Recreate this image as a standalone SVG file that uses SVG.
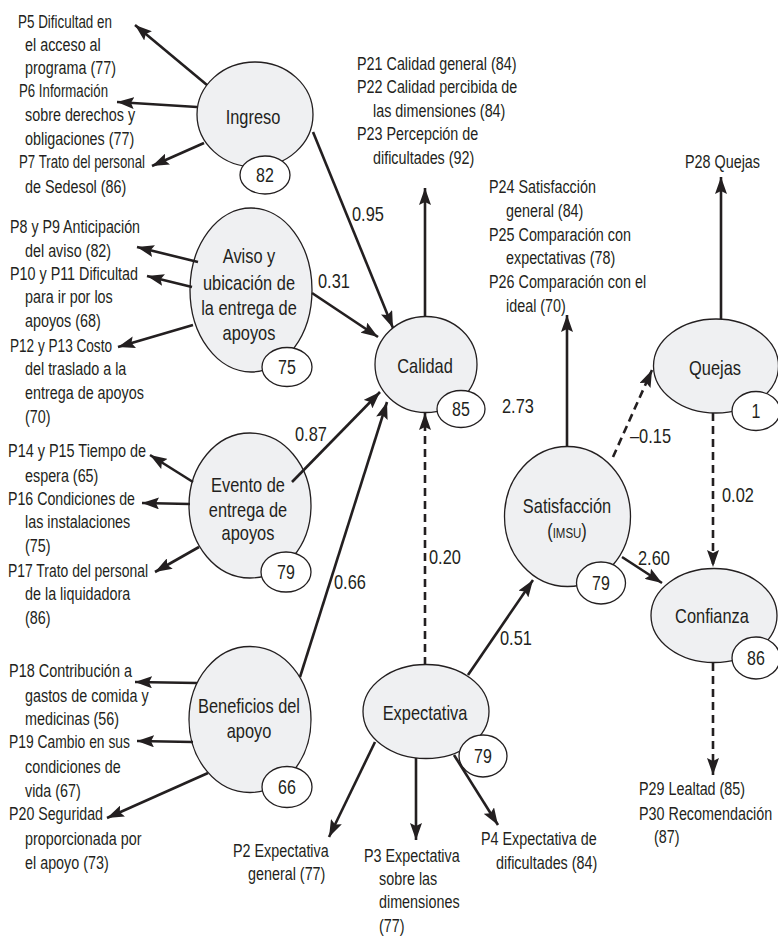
<svg xmlns="http://www.w3.org/2000/svg" width="778" height="936" viewBox="0 0 778 936">
<defs>
<marker id="ah" viewBox="0 0 17 12" markerWidth="17" markerHeight="12" refX="17" refY="6" orient="auto" markerUnits="userSpaceOnUse"><path d="M0,0 L17,6 L0,12 L3,6 z" fill="#231f20"/></marker>
</defs>
<style>
.t{font-family:'Liberation Sans',Arial,sans-serif;fill:#231f20}
.it{font-size:17.5px}
.nd{font-size:20px;text-anchor:middle}
.num{font-size:20px}
.bd{font-size:19.5px;text-anchor:middle}
.node{fill:#eff0f2;stroke:#231f20;stroke-width:1.3}
.badge{fill:#fff;stroke:#231f20;stroke-width:1.3}
.c{stroke:#231f20;stroke-width:2.6;fill:none;marker-end:url(#ah)}
.d{stroke-dasharray:8 5}
</style>
<rect width="778" height="936" fill="#fff"/>

<g id="node-ingreso">
<ellipse class="node" cx="255" cy="114.5" rx="58" ry="52.5"/>
<text class="t nd" transform="matrix(.82 0 0 1 253 124)">Ingreso</text>
<ellipse class="badge" cx="265" cy="175" rx="25" ry="19"/>
<text class="t bd" transform="matrix(.82 0 0 1 265 182)">82</text>
</g>
<g id="node-aviso">
<ellipse class="node" cx="251" cy="290" rx="61" ry="82"/>
<text class="t nd" transform="matrix(.82 0 0 1 249 263)">Aviso y</text>
<text class="t nd" transform="matrix(.82 0 0 1 249 290)">ubicación de</text>
<text class="t nd" transform="matrix(.82 0 0 1 249 315)">la entrega de</text>
<text class="t nd" transform="matrix(.82 0 0 1 249 340)">apoyos</text>
<ellipse class="badge" cx="287" cy="367" rx="25" ry="19.5"/>
<text class="t bd" transform="matrix(.82 0 0 1 287 374)">75</text>
</g>
<g id="node-evento">
<ellipse class="node" cx="250" cy="505.5" rx="61" ry="72.5"/>
<text class="t nd" transform="matrix(.82 0 0 1 248 492)">Evento de</text>
<text class="t nd" transform="matrix(.82 0 0 1 248 517)">entrega de</text>
<text class="t nd" transform="matrix(.82 0 0 1 248 540)">apoyos</text>
<ellipse class="badge" cx="286" cy="572" rx="25" ry="20"/>
<text class="t bd" transform="matrix(.82 0 0 1 286 579)">79</text>
</g>
<g id="node-beneficios">
<ellipse class="node" cx="250" cy="719.5" rx="61" ry="73"/>
<text class="t nd" transform="matrix(.82 0 0 1 249 713)">Beneficios del</text>
<text class="t nd" transform="matrix(.82 0 0 1 249 738)">apoyo</text>
<ellipse class="badge" cx="287" cy="787" rx="25" ry="20.5"/>
<text class="t bd" transform="matrix(.82 0 0 1 287 794)">66</text>
</g>
<g id="node-calidad">
<ellipse class="node" cx="426" cy="364.5" rx="51" ry="48"/>
<text class="t nd" transform="matrix(.82 0 0 1 425 373)">Calidad</text>
<ellipse class="badge" cx="461" cy="409" rx="24" ry="18.5"/>
<text class="t bd" transform="matrix(.82 0 0 1 461 416)">85</text>
</g>
<g id="node-expectativa">
<ellipse class="node" cx="426" cy="711.5" rx="63" ry="47"/>
<text class="t nd" transform="matrix(.82 0 0 1 425 720)">Expectativa</text>
<ellipse class="badge" cx="483" cy="756" rx="24" ry="21"/>
<text class="t bd" transform="matrix(.82 0 0 1 483 763)">79</text>
</g>
<g id="node-satisfaccion">
<ellipse class="node" cx="567.5" cy="516.5" rx="63" ry="70"/>
<text class="t nd" transform="matrix(.82 0 0 1 567 513)">Satisfacción</text>
<text class="t nd" transform="matrix(.82 0 0 1 567 538)">(<tspan font-size="14px">IMSU</tspan>)</text>
<ellipse class="badge" cx="601" cy="583" rx="24.5" ry="21"/>
<text class="t bd" transform="matrix(.82 0 0 1 601 590)">79</text>
</g>
<g id="node-quejas">
<ellipse class="node" cx="716" cy="366" rx="62.5" ry="47"/>
<text class="t nd" transform="matrix(.82 0 0 1 715 375)">Quejas</text>
<ellipse class="badge" cx="756" cy="411" rx="24" ry="19.5"/>
<text class="t bd" transform="matrix(.82 0 0 1 756 418)">1</text>
</g>
<g id="node-confianza">
<ellipse class="node" cx="714" cy="615.5" rx="63" ry="47"/>
<text class="t nd" transform="matrix(.82 0 0 1 712 623)">Confianza</text>
<ellipse class="badge" cx="756" cy="658" rx="24" ry="21"/>
<text class="t bd" transform="matrix(.82 0 0 1 756 665)">86</text>
</g>

<g id="connectors">
<line class="c" x1="207" y1="85" x2="135" y2="25"/>
<line class="c" x1="197" y1="107" x2="117" y2="102"/>
<line class="c" x1="204" y1="143" x2="152" y2="166"/>
<line class="c" x1="313" y1="132" x2="393" y2="328"/>
<line class="c" x1="198" y1="262" x2="137" y2="247"/>
<line class="c" x1="192" y1="287" x2="147" y2="276"/>
<line class="c" x1="193" y1="325" x2="118" y2="347"/>
<line class="c" x1="312" y1="293" x2="378" y2="337"/>
<line class="c" x1="193" y1="482" x2="150" y2="455"/>
<line class="c" x1="190" y1="504" x2="142" y2="503"/>
<line class="c" x1="199" y1="547" x2="155" y2="572"/>
<line class="c" x1="292" y1="482" x2="380" y2="392"/>
<line class="c" x1="197" y1="683" x2="135" y2="682"/>
<line class="c" x1="193" y1="742" x2="137" y2="741"/>
<line class="c" x1="208" y1="773" x2="107" y2="818"/>
<line class="c" x1="300" y1="677" x2="387" y2="402"/>
<line class="c" x1="425" y1="317" x2="425" y2="188"/>
<line class="c d" x1="425" y1="665" x2="425" y2="413"/>
<line class="c" x1="375" y1="742" x2="329" y2="837"/>
<line class="c" x1="416" y1="758" x2="416" y2="840"/>
<line class="c" x1="454" y1="755" x2="498" y2="825"/>
<line class="c" x1="468" y1="675" x2="533" y2="580"/>
<line class="c" x1="567" y1="447" x2="567" y2="315"/>
<line class="c d" x1="613" y1="457" x2="652" y2="370"/>
<line class="c" x1="622" y1="557" x2="662" y2="583"/>
<line class="c" x1="721" y1="319" x2="721" y2="177"/>
<line class="c d" x1="713" y1="413" x2="713" y2="567"/>
<line class="c d" x1="713" y1="663" x2="713" y2="775"/>
</g>

<g id="coefficients">
<text class="t num" transform="matrix(.82 0 0 1 352 221)">0.95</text>
<text class="t num" transform="matrix(.82 0 0 1 318 288)">0.31</text>
<text class="t num" transform="matrix(.82 0 0 1 295 441)">0.87</text>
<text class="t num" transform="matrix(.82 0 0 1 334 589)">0.66</text>
<text class="t num" transform="matrix(.82 0 0 1 429 564)">0.20</text>
<text class="t num" transform="matrix(.82 0 0 1 500 645)">0.51</text>
<text class="t num" transform="matrix(.82 0 0 1 502 413)">2.73</text>
<text class="t num" transform="matrix(.82 0 0 1 630 443)">–0.15</text>
<text class="t num" transform="matrix(.82 0 0 1 638 565)">2.60</text>
<text class="t num" transform="matrix(.82 0 0 1 722 502)">0.02</text>
</g>

<g id="indicators">
<text class="t it" x="18" y="28" textLength="94" lengthAdjust="spacingAndGlyphs">P5 Dificultad en</text>
<text class="t it" transform="matrix(.82 0 0 1 25 51)">el acceso al</text>
<text class="t it" transform="matrix(.82 0 0 1 25 74)">programa (77)</text>
<text class="t it" x="19" y="97" textLength="89" lengthAdjust="spacingAndGlyphs">P6 Información</text>
<text class="t it" transform="matrix(.82 0 0 1 25 121)">sobre derechos y</text>
<text class="t it" transform="matrix(.82 0 0 1 25 145)">obligaciones (77)</text>
<text class="t it" x="19" y="168" textLength="126" lengthAdjust="spacingAndGlyphs">P7 Trato del personal</text>
<text class="t it" transform="matrix(.82 0 0 1 25 193)">de Sedesol (86)</text>

<text class="t it" x="10" y="233" textLength="130" lengthAdjust="spacingAndGlyphs">P8 y P9 Anticipación</text>
<text class="t it" transform="matrix(.82 0 0 1 25 257)">del aviso (82)</text>
<text class="t it" x="10" y="280" textLength="128" lengthAdjust="spacingAndGlyphs">P10 y P11 Dificultad</text>
<text class="t it" transform="matrix(.82 0 0 1 25 303)">para ir por los</text>
<text class="t it" transform="matrix(.82 0 0 1 25 327)">apoyos (68)</text>
<text class="t it" x="10" y="352" textLength="102" lengthAdjust="spacingAndGlyphs">P12 y P13 Costo</text>
<text class="t it" transform="matrix(.82 0 0 1 25 375)">del traslado a la</text>
<text class="t it" transform="matrix(.82 0 0 1 25 399)">entrega de apoyos</text>
<text class="t it" transform="matrix(.82 0 0 1 25 423)">(70)</text>

<text class="t it" x="8" y="457" textLength="138" lengthAdjust="spacingAndGlyphs">P14 y P15 Tiempo de</text>
<text class="t it" transform="matrix(.82 0 0 1 25 482)">espera (65)</text>
<text class="t it" x="8" y="505" textLength="127" lengthAdjust="spacingAndGlyphs">P16 Condiciones de</text>
<text class="t it" transform="matrix(.82 0 0 1 25 528)">las instalaciones</text>
<text class="t it" transform="matrix(.82 0 0 1 25 552)">(75)</text>
<text class="t it" x="8" y="577" textLength="140" lengthAdjust="spacingAndGlyphs">P17 Trato del personal</text>
<text class="t it" transform="matrix(.82 0 0 1 25 600)">de la liquidadora</text>
<text class="t it" transform="matrix(.82 0 0 1 25 624)">(86)</text>

<text class="t it" x="9" y="677" textLength="123" lengthAdjust="spacingAndGlyphs">P18 Contribución a</text>
<text class="t it" transform="matrix(.82 0 0 1 25 702)">gastos de comida y</text>
<text class="t it" transform="matrix(.82 0 0 1 25 725)">medicinas (56)</text>
<text class="t it" x="9" y="748" textLength="121" lengthAdjust="spacingAndGlyphs">P19 Cambio en sus</text>
<text class="t it" transform="matrix(.82 0 0 1 25 773)">condiciones de</text>
<text class="t it" transform="matrix(.82 0 0 1 25 797)">vida (67)</text>
<text class="t it" x="9" y="820" textLength="94" lengthAdjust="spacingAndGlyphs">P20 Seguridad</text>
<text class="t it" transform="matrix(.82 0 0 1 25 845)">proporcionada por</text>
<text class="t it" transform="matrix(.82 0 0 1 25 869)">el apoyo (73)</text>

<text class="t it" transform="matrix(.82 0 0 1 357 70)">P21 Calidad general (84)</text>
<text class="t it" transform="matrix(.82 0 0 1 357 93)">P22 Calidad percibida de</text>
<text class="t it" transform="matrix(.82 0 0 1 373 117)">las dimensiones (84)</text>
<text class="t it" transform="matrix(.82 0 0 1 357 140)">P23 Percepción de</text>
<text class="t it" transform="matrix(.82 0 0 1 373 164)">dificultades (92)</text>

<text class="t it" transform="matrix(.82 0 0 1 489 193)">P24 Satisfacción</text>
<text class="t it" transform="matrix(.82 0 0 1 506 217)">general (84)</text>
<text class="t it" transform="matrix(.82 0 0 1 489 241)">P25 Comparación con</text>
<text class="t it" transform="matrix(.82 0 0 1 506 264)">expectativas (78)</text>
<text class="t it" transform="matrix(.82 0 0 1 489 288)">P26 Comparación con el</text>
<text class="t it" transform="matrix(.82 0 0 1 506 312)">ideal (70)</text>

<text class="t it" transform="matrix(.82 0 0 1 685 168)">P28 Quejas</text>

<text class="t it" transform="matrix(.82 0 0 1 233 857)">P2 Expectativa</text>
<text class="t it" transform="matrix(.82 0 0 1 248 880)">general (77)</text>
<text class="t it" transform="matrix(.82 0 0 1 364 862)">P3 Expectativa</text>
<text class="t it" transform="matrix(.82 0 0 1 379 885)">sobre las</text>
<text class="t it" transform="matrix(.82 0 0 1 379 908)">dimensiones</text>
<text class="t it" transform="matrix(.82 0 0 1 379 932)">(77)</text>
<text class="t it" transform="matrix(.82 0 0 1 481 845)">P4 Expectativa de</text>
<text class="t it" transform="matrix(.82 0 0 1 496 869)">dificultades (84)</text>

<text class="t it" transform="matrix(.82 0 0 1 639 795)">P29 Lealtad (85)</text>
<text class="t it" transform="matrix(.82 0 0 1 639 820)">P30 Recomendación</text>
<text class="t it" transform="matrix(.82 0 0 1 654 843)">(87)</text>
</g>
</svg>
